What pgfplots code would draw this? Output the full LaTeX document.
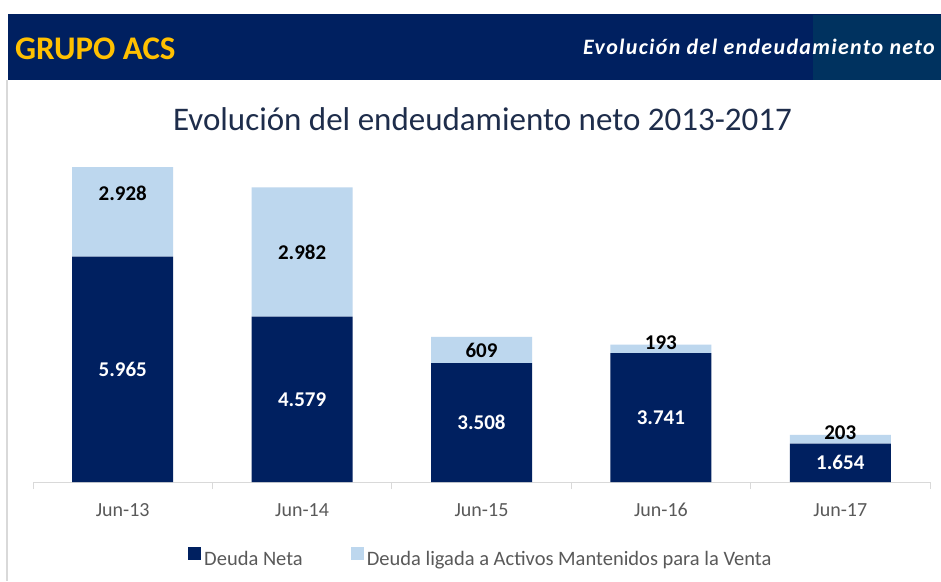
\documentclass[border=0pt]{standalone}
\usepackage{pgfplots}
\pgfplotsset{compat=1.18}
\usepackage{pgfplotstable}
\usepackage{fontspec}
\setmainfont{Carlito}
\definecolor{navy}{RGB}{0,32,96}
\definecolor{hdrtwo}{RGB}{0,50,95}
\definecolor{lightb}{RGB}{189,215,238}
\definecolor{gold}{RGB}{255,192,0}
\definecolor{ttl}{RGB}{30,45,75}
\definecolor{axgray}{RGB}{217,217,217}
\definecolor{lbl}{RGB}{89,89,89}

\pgfplotstableread{
x dark light
0 5965 2928
1 4579 2982
2 3508 609
3 3741 193
4 1654 203
}\bars

\pgfplotstableread{
x y lab
0 3367 5.965
1 2674 4.579
2 2139 3.508
3 2255 3.741
4 1212 1.654
}\darklab

\pgfplotstableread{
x y lab
0 7429 2.928
1 6070 2.982
2 3812 609
3 3975 193
4 1905 203
}\lightlab

\begin{document}
\begin{tikzpicture}
\useasboundingbox (0pt,0pt) rectangle (941pt,581pt);
\fill[white] (0pt,0pt) rectangle (941pt,581pt);
\fill[navy] (8pt,500.5pt) rectangle (941pt,567pt);
\fill[hdrtwo] (812.5pt,500.5pt) rectangle (941pt,566pt);
\fill[axgray] (6pt,0pt) rectangle (8.3pt,500.5pt);
\node[anchor=base west, inner sep=0pt, text=gold, font=\fontsize{33}{39}\selectfont\bfseries] at (15pt,521.7pt) {GRUPO ACS};
\node[anchor=base west, inner sep=0pt, text=white, font=\fontsize{22}{26}\selectfont\bfseries\itshape\addfontfeatures{LetterSpace=6}] at (583pt,526pt) {Evolución del endeudamiento neto};
\node[anchor=base, inner sep=0pt, text=ttl, font=\fontsize{33}{40}\selectfont] at (482.5pt,450pt) {Evolución del endeudamiento neto 2013-2017};

\begin{axis}[
  at={(33pt,99pt)}, anchor=south west,
  scale only axis, width=897pt, height=314.7pt,
  xmin=-0.5, xmax=4.5, ymin=770, ymax=8023,
  enlarge x limits=false,
  ybar stacked, bar width=101pt,
  axis y line=none, axis x line*=bottom,
  x axis line style={axgray, line width=1pt, -},
  ytick=\empty,
  xtick={-0.5,0.5,1.5,2.5,3.5,4.5}, xticklabels={},
  tick align=outside, major tick length=7pt,
  x tick style={axgray, line width=1pt},
  extra x ticks={0,1,2,3,4},
  extra x tick labels={Jun-13,Jun-14,Jun-15,Jun-16,Jun-17},
  extra x tick style={major tick length=0pt},
  x tick label style={anchor=north, inner sep=0pt, yshift=-21pt, font=\fontsize{20}{24}\selectfont, text=lbl},
  legend columns=2,
  legend image code/.code={\fill[#1] (0pt,0pt) rectangle (13pt,13pt);},
  legend style={at={(0.1728,-0.2383)}, anchor=west, draw=none, fill=none, inner sep=0pt,
    font=\fontsize{20.5}{24}\selectfont, text=lbl, nodes={inner sep=0pt},
    /tikz/every odd column/.append style={column sep=3pt},
    /tikz/every even column/.append style={column sep=48pt}},
]
\addplot[fill=navy, draw=none] table[x=x, y=dark] {\bars};
\addlegendentry{Deuda Neta}
\addplot[fill=lightb, draw=none] table[x=x, y=light] {\bars};
\addlegendentry{Deuda ligada a Activos Mantenidos para la Venta}
\end{axis}

\begin{axis}[
  at={(33pt,99pt)}, anchor=south west,
  scale only axis, width=897pt, height=314.7pt,
  xmin=-0.5, xmax=4.5, ymin=770, ymax=8023,
  hide axis, clip=false,
]
\addplot[draw=none, mark=none, point meta=explicit symbolic,
  nodes near coords={\pgfplotspointmeta},
  nodes near coords style={anchor=center, inner sep=0pt, text=white, font=\fontsize{21}{25}\selectfont\bfseries}]
  table[x=x, y=y, meta=lab] {\darklab};
\addplot[draw=none, mark=none, point meta=explicit symbolic,
  nodes near coords={\pgfplotspointmeta},
  nodes near coords style={anchor=center, inner sep=0pt, text=black, font=\fontsize{21}{25}\selectfont\bfseries}]
  table[x=x, y=y, meta=lab] {\lightlab};
\end{axis}
\end{tikzpicture}
\end{document}
